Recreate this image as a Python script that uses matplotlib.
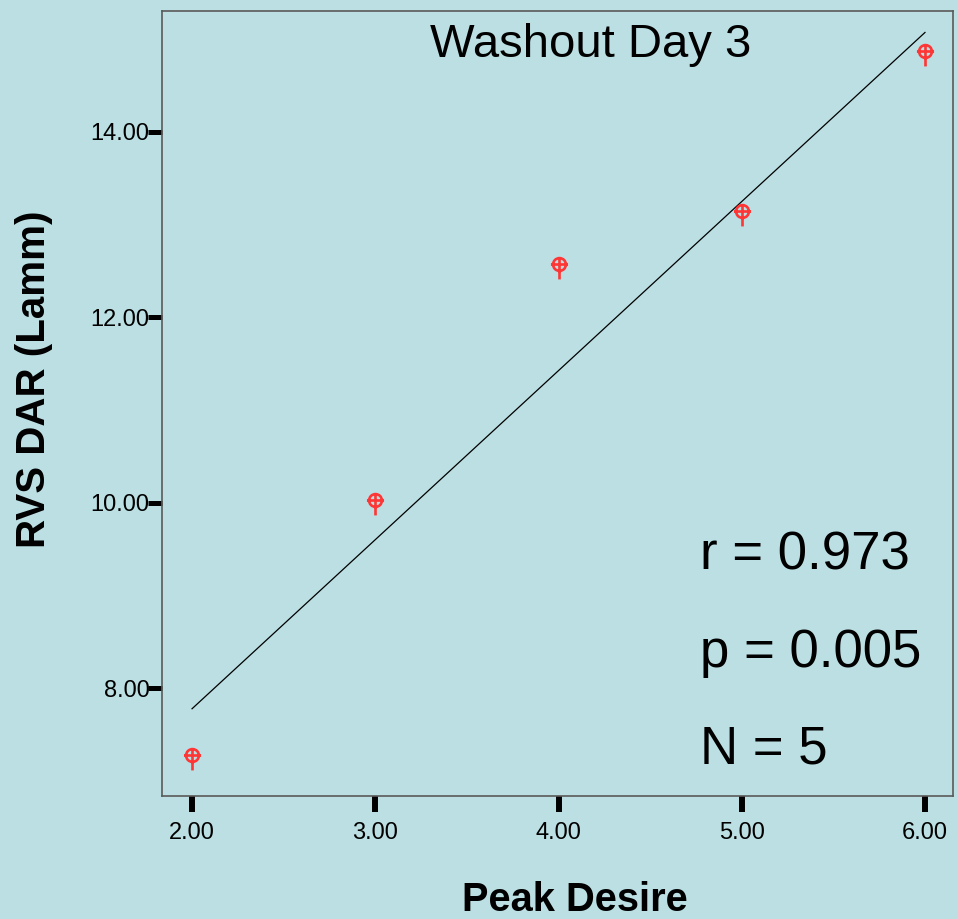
import matplotlib.pyplot as plt
import numpy as np
from matplotlib.path import Path
from matplotlib.ticker import FormatStrFormatter

plt.rcParams['font.family'] = ['Liberation Sans', 'DejaVu Sans']

# Peak desire vs RVS DAR, washout day 3
peak_desire = [2.0, 3.0, 4.0, 5.0, 6.0]
rvs_dar = [7.28, 10.03, 12.57, 13.15, 14.87]

# fitted line end points
fit_x = [2.0, 6.0]
fit_y = [7.78, 15.07]

stats_lines = ["r = 0.973", "p = 0.005", "N = 5"]
x_ticks = [2.0, 3.0, 4.0, 5.0, 6.0]
y_ticks = [8.0, 10.0, 12.0, 14.0]

bg = '#BBDFE3'
red = '#FF3636'

# circle with a cross and a tail running down
circ = Path.circle((0, 0), 6)
cross = Path([(-8, 0), (8, 0), (0, 7), (0, -14)],
             [Path.MOVETO, Path.LINETO, Path.MOVETO, Path.LINETO])
pin = Path.make_compound_path(circ, cross)

fig = plt.figure(figsize=(9.58, 9.19), dpi=100, facecolor=bg)
ax = fig.add_axes([0.1691, 0.1338, 0.8257, 0.8542], facecolor=bg)

ax.plot(fit_x, fit_y, color='black', lw=0.9)
ax.plot(peak_desire, rvs_dar, linestyle='none', marker=pin, markersize=21.5,
        mfc='none', mec=red, mew=1.9)

ax.set_xlim(1.836, 6.153)
ax.set_ylim(6.839, 15.301)
ax.set_xticks(x_ticks)
ax.set_yticks(y_ticks)
ax.xaxis.set_major_formatter(FormatStrFormatter('%.2f'))
ax.yaxis.set_major_formatter(FormatStrFormatter('%.2f'))
ax.tick_params(axis='x', direction='out', length=11.5, width=4.3,
               labelsize=17, pad=7, color='black')
ax.tick_params(axis='y', direction='out', length=10, width=3.6,
               labelsize=17, pad=-1, color='black')

for s in ax.spines.values():
    s.set_color('#5a5a5a')
    s.set_linewidth(1.2)

ax.set_xlabel('Peak Desire', fontsize=28.7, fontweight='bold')
ax.xaxis.set_label_coords(0.522, -0.108)
ax.set_ylabel('RVS DAR (Lamm)', fontsize=29, fontweight='bold')
ax.yaxis.set_label_coords(-0.1618, 0.531)
ax.yaxis.label.set_verticalalignment('center')

fig.text(591 / 958, 1 - 57 / 919, 'Washout Day 3', fontsize=34,
         ha='center', va='baseline')
for txt, base in zip(stats_lines, [570, 667, 763]):
    fig.text(700 / 958, 1 - base / 919, txt, fontsize=38,
             ha='left', va='baseline')

fig.savefig('out.png', dpi=100, facecolor=bg)
